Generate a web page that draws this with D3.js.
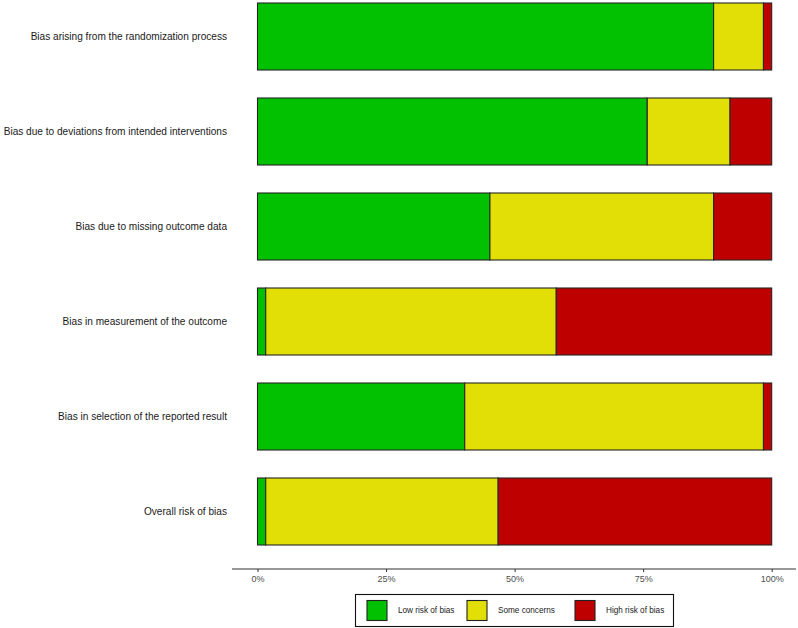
<!DOCTYPE html>
<html>
<head>
<meta charset="utf-8">
<script src="https://cdn.jsdelivr.net/npm/d3@7"></script>
<style>
  body { margin: 0; background: #fff; }
  text { font-family: "Liberation Sans", Arial, Helvetica, sans-serif; }
</style>
</head>
<body>
<svg width="798" height="628"></svg>
<script>
const domains = [
  'Bias arising from the randomization process',
  'Bias due to deviations from intended interventions',
  'Bias due to missing outcome data',
  'Bias in measurement of the outcome',
  'Bias in selection of the reported result',
  'Overall risk of bias'
]
const lowRisk = [88.7, 75.8, 45.2, 1.6, 40.3, 1.6]
const someConcerns = [9.7, 16.1, 43.5, 56.5, 58.1, 45.2]
const highRisk = [1.6, 8.1, 11.3, 41.9, 1.6, 53.2]
const judgements = ['Low risk of bias', 'Some concerns', 'High risk of bias']
const colours = ['#02C100', '#E2DF07', '#BF0000']
const tickValues = [0, 25, 50, 75, 100]

const svg = d3.select('svg')

const x = d3.scaleLinear()
  .domain([0, 100])
  .range([257.5, 771.7])

const y = d3.scaleBand()
  .domain(domains)
  .range([-11, 559])
  .paddingInner(28 / 95)
  .paddingOuter(14 / 95)

const rows = domains.map(function (d, i) {
  return { domain: d, low: lowRisk[i], some: someConcerns[i], high: highRisk[i] }
})

const stack = d3.stack().keys(['low', 'some', 'high'])
const series = stack(rows)

const layer = svg.selectAll('.layer')
  .data(series)
  .enter().append('g')
  .attr('class', 'layer')
  .attr('fill', function (d, i) { return colours[i] })

layer.selectAll('rect')
  .data(function (d) { return d })
  .enter().append('rect')
  .attr('x', function (d) { return x(d[0]) })
  .attr('y', function (d) { return y(d.data.domain) })
  .attr('width', function (d) { return x(d[1]) - x(d[0]) })
  .attr('height', y.bandwidth())
  .attr('stroke', '#262626')
  .attr('stroke-width', 1.1)

// category labels
svg.append('g')
  .selectAll('text')
  .data(domains)
  .enter().append('text')
  .attr('x', 227)
  .attr('y', function (d) { return y(d) + y.bandwidth() / 2 })
  .attr('dy', '0.35em')
  .attr('text-anchor', 'end')
  .attr('font-size', 10.1)
  .attr('fill', '#1a1a1a')
  .text(function (d) { return d })

// x axis
const axisY = 569
const xAxis = d3.axisBottom(x)
  .tickValues(tickValues)
  .tickSize(3)
  .tickPadding(4)
  .tickFormat(function (d) { return d + '%' })

const ax = svg.append('g')
  .attr('transform', 'translate(0,' + axisY + ')')
  .call(xAxis)
ax.select('.domain').remove()
ax.selectAll('.tick line').attr('stroke', '#333')
ax.selectAll('.tick text')
  .attr('fill', '#4d4d4d')
  .attr('font-size', 9)
  .style('font-family', '"Liberation Sans", Arial, sans-serif')
ax.append('line')
  .attr('x1', 232).attr('x2', 796)
  .attr('y1', 0).attr('y2', 0)
  .attr('stroke', '#333')
  .attr('stroke-width', 1.1)

// legend
const legend = svg.append('g')
legend.append('rect')
  .attr('x', 355.5).attr('y', 594.5)
  .attr('width', 318).attr('height', 32)
  .attr('fill', '#fff')
  .attr('stroke', '#111')
  .attr('stroke-width', 1.1)

const keyX = [367, 467, 575]
const item = legend.selectAll('.key')
  .data(judgements)
  .enter().append('g')
  .attr('class', 'key')
  .attr('transform', function (d, i) { return 'translate(' + keyX[i] + ',600.5)' })

item.append('rect')
  .attr('width', 20).attr('height', 20)
  .attr('fill', function (d, i) { return colours[i] })
  .attr('stroke', '#222')
  .attr('stroke-width', 1.1)

item.append('text')
  .attr('x', 31)
  .attr('y', 10)
  .attr('dy', '0.35em')
  .attr('font-size', 8.2)
  .attr('fill', '#1a1a1a')
  .text(function (d) { return d })
</script>
</body>
</html>
